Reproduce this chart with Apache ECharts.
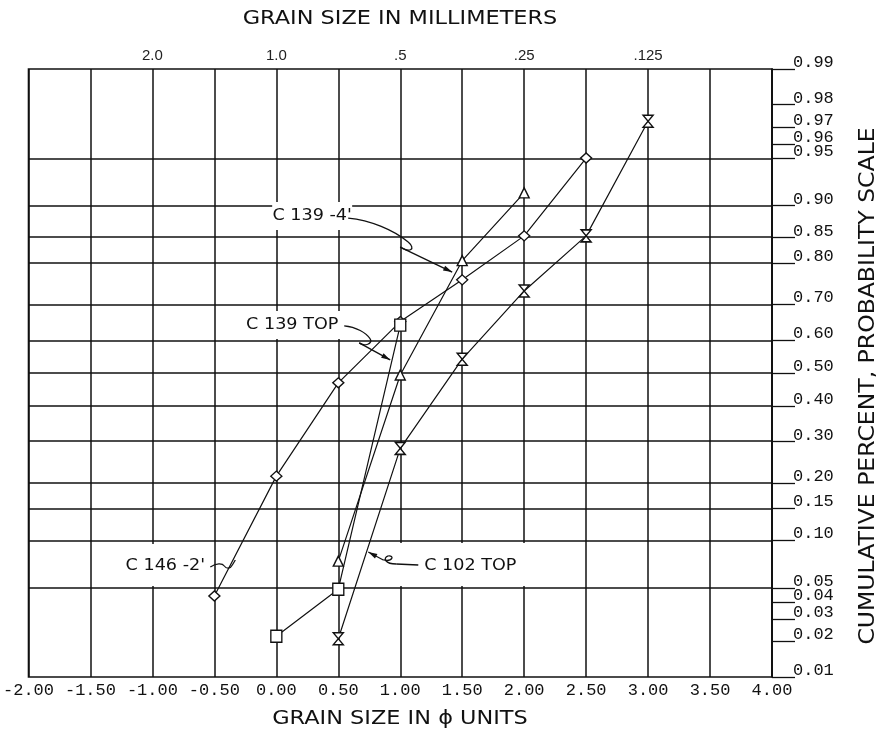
<!DOCTYPE html>
<html>
<head>
<meta charset="utf-8">
<script src="https://cdn.jsdelivr.net/npm/echarts@6/dist/echarts.min.js"></script>
<style>
  html, body { margin: 0; padding: 0; background: #ffffff; }
  #chart { width: 881px; height: 730px; }
</style>
</head>
<body>
<div id="chart"></div>
<script>
// Grain size in phi units (bottom axis) and the matching millimetre sizes (top axis)
const phiMin = -2, phiMax = 4;
const mmTickPhi = [-1, 0, 1, 2, 3];
const mmTickText = ['2.0', '1.0', '.5', '.25', '.125'];

// Cumulative fraction ticks on the probability scale
const probTicks = [0.99, 0.98, 0.97, 0.96, 0.95, 0.90, 0.85, 0.80, 0.70, 0.60, 0.50,
                   0.40, 0.30, 0.20, 0.15, 0.10, 0.05, 0.04, 0.03, 0.02, 0.01];
const probGridLines = [0.95, 0.90, 0.85, 0.80, 0.70, 0.60, 0.50, 0.40, 0.30, 0.20, 0.15, 0.10, 0.05];

// Samples: grain size (phi) and cumulative fraction
const c146Phi = [-0.5, 0.0, 0.5, 1.0, 1.5, 2.0, 2.5];
const c146Cum = [0.044, 0.215, 0.47, 0.653, 0.762, 0.853, 0.95];

const c139mPhi = [0.5, 1.0, 1.5, 2.0];
const c139mCum = [0.075, 0.494, 0.805, 0.916];

const c139tPhi = [0.0, 0.5, 1.0];
const c139tCum = [0.022, 0.049, 0.643];

const c102tPhi = [0.5, 1.0, 1.5, 2.0, 2.5, 3.0];
const c102tCum = [0.021, 0.282, 0.542, 0.735, 0.853, 0.973];

// Inverse of the standard normal CDF (Acklam's rational approximation)
function probit(p) {
  const a = [-3.969683028665376e+01, 2.209460984245205e+02, -2.759285104469687e+02,
             1.383577518672690e+02, -3.066479806614716e+01, 2.506628277459239e+00];
  const b = [-5.447609879822406e+01, 1.615858368580409e+02, -1.556989798598866e+02,
             6.680131188771972e+01, -1.328068155288572e+01];
  const c = [-7.784894002430293e-03, -3.223964580411365e-01, -2.400758277161838e+00,
             -2.549732539343734e+00, 4.374664141464968e+00, 2.938163982698783e+00];
  const d = [7.784695709041462e-03, 3.224671290700398e-01, 2.445134137142996e+00,
             3.754408661907416e+00];
  const pl = 0.02425, ph = 1 - pl;
  let q, r;
  if (p < pl) {
    q = Math.sqrt(-2 * Math.log(p));
    return (((((c[0]*q+c[1])*q+c[2])*q+c[3])*q+c[4])*q+c[5]) /
           ((((d[0]*q+d[1])*q+d[2])*q+d[3])*q+1);
  }
  if (p <= ph) {
    q = p - 0.5; r = q * q;
    return (((((a[0]*r+a[1])*r+a[2])*r+a[3])*r+a[4])*r+a[5])*q /
           (((((b[0]*r+b[1])*r+b[2])*r+b[3])*r+b[4])*r+1);
  }
  q = Math.sqrt(-2 * Math.log(1 - p));
  return -(((((c[0]*q+c[1])*q+c[2])*q+c[3])*q+c[4])*q+c[5]) /
          ((((d[0]*q+d[1])*q+d[2])*q+d[3])*q+1);
}

const zMin = probit(0.01), zMax = probit(0.99);
const tickZ = probTicks.map(probit);
function probLabel(z) {
  for (let i = 0; i < probTicks.length; i++) {
    if (Math.abs(tickZ[i] - z) < 1e-6) return probTicks[i].toFixed(2);
  }
  return '';
}
function toPoints(xs, ps) { return xs.map((x, i) => [x, probit(ps[i])]); }

const INK = '#111111';
const hourglass = 'path://M0,0L10,0L0,12L10,12Z';

function sampleSeries(name, xs, ps, symbol, size) {
  return {
    name: name,
    type: 'line',
    data: toPoints(xs, ps),
    symbol: symbol,
    symbolSize: size,
    showSymbol: true,
    z: 3,
    lineStyle: { color: INK, width: 1.2 },
    itemStyle: { color: '#ffffff', borderColor: INK, borderWidth: 1.4 },
    emphasis: { disabled: true }
  };
}

const chart = echarts.init(document.getElementById('chart'), null, { renderer: 'canvas' });

const series = [
  sampleSeries("C 146 -2'", c146Phi, c146Cum, 'diamond', [11, 10]),
  sampleSeries("C 139 -4'", c139mPhi, c139mCum, 'triangle', [10, 10]),
  sampleSeries('C 139 TOP', c139tPhi, c139tCum, 'rect', [11, 12]),
  sampleSeries('C 102 TOP', c102tPhi, c102tCum, hourglass, [10, 12])
];
// horizontal rulings of the probability paper
series[0].markLine = {
  silent: true,
  symbol: 'none',
  z: 1,
  label: { show: false },
  lineStyle: { color: INK, width: 1.5, type: 'solid' },
  emphasis: { disabled: true },
  data: probGridLines.map(p => ({ yAxis: probit(p) }))
};

chart.setOption({
  animation: false,
  backgroundColor: '#ffffff',
  grid: {
    left: 28, top: 69, right: 109, bottom: 53,
    show: true, borderColor: INK, borderWidth: 1.6, backgroundColor: 'transparent'
  },
  xAxis: [
    {
      type: 'value', position: 'bottom', min: phiMin, max: phiMax, interval: 0.5,
      axisLine: { show: false }, axisTick: { show: false },
      splitLine: { show: true, lineStyle: { color: INK, width: 1.5 } },
      axisLabel: {
        color: INK, fontFamily: 'Liberation Mono', fontSize: 17, margin: 5,
        formatter: v => v.toFixed(2)
      }
    },
    {
      type: 'value', position: 'top', min: phiMin, max: phiMax, interval: 1,
      axisLine: { show: false }, axisTick: { show: false }, splitLine: { show: false },
      axisLabel: {
        color: '#222222', fontFamily: 'Liberation Sans', fontSize: 15, margin: 6,
        formatter: v => { const i = mmTickPhi.indexOf(v); return i >= 0 ? mmTickText[i] : ''; }
      }
    }
  ],
  yAxis: {
    type: 'value', position: 'right', min: zMin, max: zMax,
    axisLine: { show: true, onZero: false, lineStyle: { color: INK, width: 1.6 } },
    splitLine: { show: false },
    axisTick: {
      show: true, inside: false, length: 23, customValues: tickZ,
      lineStyle: { color: INK, width: 1.3 }
    },
    axisLabel: {
      show: true, customValues: tickZ, margin: 21,
      color: INK, fontFamily: 'Liberation Mono', fontSize: 17,
      verticalAlign: 'bottom', lineHeight: 13,
      formatter: probLabel
    }
  },
  series: series
});

// Sample labels with their hand-drawn leaders, anchored on the curve they point at.
// Leader segments are pixel offsets from the anchor: ['C', x0,y0, c1x,c1y, c2x,c2y, x1,y1] or ['L', x0,y0, x1,y1]
const notes = [
  { text: "C 139 -4'", phi: 1.419, cum: 0.780, dx: -140, dy: -56, box: [-40, -14, 80, 28],
    leader: [['C', -104, -54, -82, -52, -58, -42, -44, -30], ['C', -44, -30, -36, -23, -42, -19, -52, -25], ['L', -52, -25, 0, 0]],
    arrowFrom: [-52, -25] },
  { text: 'C 139 TOP', phi: 0.919, cum: 0.540, dx: -98, dy: -35, box: [-54, -14, 110, 28],
    leader: [['C', -46, -34, -34, -33, -24, -27, -20, -21], ['C', -20, -21, -17, -16, -26, -13, -31, -17], ['L', -31, -17, 0, 0]],
    arrowFrom: [-31, -17] },
  { text: "C 146 -2'", phi: -0.331, cum: 0.0762, dx: -70, dy: 6, box: [-53, -22, 100, 42],
    leader: [['C', -25, 7, -19, 3, -13, 3, -11, 6], ['C', -11, 6, -9, 9, -5, 9, -3, 5], ['L', -3, 5, 0, 0]],
    arrowFrom: null },
  { text: 'C 102 TOP', phi: 0.742, cum: 0.0854, dx: 102, dy: 14, box: [-72, -23, 127, 43],
    leader: [['L', 50, 13, 28, 12], ['C', 28, 12, 17, 12, 14, 6, 20, 4], ['C', 20, 4, 26, 3, 25, 10, 15, 8], ['L', 15, 8, 0, 0]],
    arrowFrom: [15, 8] }
];

const graphics = [];
const leaderStyle = { fill: null, stroke: INK, lineWidth: 1.3 };
notes.forEach(n => {
  const tip = chart.convertToPixel({ gridIndex: 0 }, [n.phi, probit(n.cum)]);
  const cx = tip[0] + n.dx, cy = tip[1] + n.dy;
  graphics.push({
    type: 'rect', x: cx + n.box[0], y: cy + n.box[1], z: 10,
    shape: { width: n.box[2], height: n.box[3] },
    style: { fill: '#ffffff' }
  });
  graphics.push({
    type: 'text', x: cx, y: cy, z: 11, scaleX: 1.1,
    style: { text: n.text, fill: INK, font: '16px "DejaVu Sans"', textAlign: 'center', textVerticalAlign: 'middle' }
  });
  n.leader.forEach(s => {
    if (s[0] === 'C') {
      graphics.push({
        type: 'bezierCurve', x: tip[0], y: tip[1], z: 11,
        shape: { x1: s[1], y1: s[2], cpx1: s[3], cpy1: s[4], cpx2: s[5], cpy2: s[6], x2: s[7], y2: s[8] },
        style: leaderStyle
      });
    } else {
      graphics.push({
        type: 'line', x: tip[0], y: tip[1], z: 11,
        shape: { x1: s[1], y1: s[2], x2: s[3], y2: s[4] },
        style: leaderStyle
      });
    }
  });
  if (n.arrowFrom) {
    const ang = Math.atan2(-n.arrowFrom[1], -n.arrowFrom[0]);
    const L = 9, W = 2.6;
    const bx = -Math.cos(ang) * L, by = -Math.sin(ang) * L;
    const px = -Math.sin(ang) * W, py = Math.cos(ang) * W;
    graphics.push({
      type: 'polygon', x: tip[0], y: tip[1], z: 12,
      shape: { points: [[0, 0], [bx + px, by + py], [bx - px, by - py]] },
      style: { fill: INK }
    });
  }
});

// axis titles
graphics.push({
  type: 'text', x: 400, y: 19, scaleX: 1.18, z: 10,
  style: { text: 'GRAIN SIZE IN MILLIMETERS', fill: INK, font: '19px "DejaVu Sans"', textAlign: 'center', textVerticalAlign: 'middle' }
});
graphics.push({
  type: 'text', x: 400, y: 719, scaleX: 1.18, z: 10,
  style: { text: 'GRAIN SIZE IN ϕ UNITS', fill: INK, font: '19px "DejaVu Sans"', textAlign: 'center', textVerticalAlign: 'middle' }
});
graphics.push({
  type: 'text', x: 869, y: 386, rotation: Math.PI / 2, scaleX: 1.12, z: 10,
  style: { text: 'CUMULATIVE PERCENT, PROBABILITY SCALE', fill: INK, font: '21px "DejaVu Sans"', textAlign: 'center', textVerticalAlign: 'middle' }
});

chart.setOption({ graphic: graphics });
</script>
</body>
</html>
